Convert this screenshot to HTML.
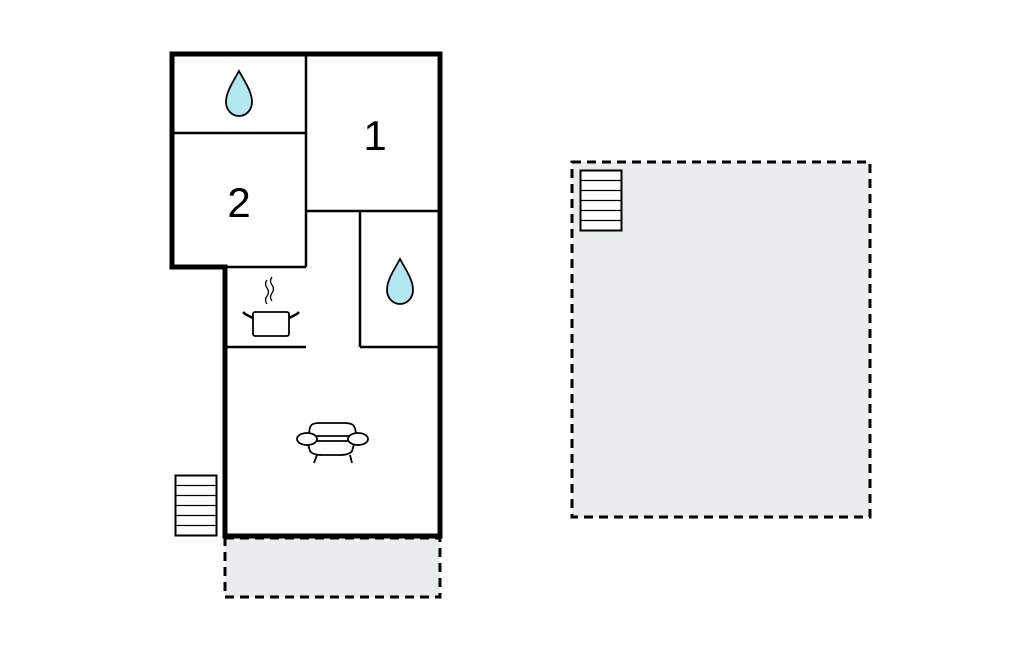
<!DOCTYPE html>
<html><head><meta charset="utf-8"><style>html,body{margin:0;padding:0;background:#fff}svg{display:block}</style></head>
<body>
<svg width="1024" height="652" viewBox="0 0 1024 652" xmlns="http://www.w3.org/2000/svg">
<rect x="225" y="538" width="215" height="59" fill="#eaeded" stroke="#000" stroke-width="3" stroke-dasharray="9,6"/>
<rect x="572" y="162" width="298" height="355" fill="#eaeded" stroke="#000" stroke-width="3" stroke-dasharray="9,6"/>
<rect x="580.5" y="170.5" width="41" height="60" fill="#fff" stroke="#000" stroke-width="2"/>
<g stroke="#000" stroke-width="1.3">
<line x1="581" y1="180.5" x2="621" y2="180.5"/><line x1="581" y1="190.5" x2="621" y2="190.5"/><line x1="581" y1="200.5" x2="621" y2="200.5"/><line x1="581" y1="210.5" x2="621" y2="210.5"/><line x1="581" y1="220.5" x2="621" y2="220.5"/>
</g>
<rect x="175.5" y="475.5" width="41" height="60" fill="#fff" stroke="#000" stroke-width="2"/>
<g stroke="#000" stroke-width="1.3">
<line x1="176" y1="485.5" x2="216" y2="485.5"/><line x1="176" y1="495.5" x2="216" y2="495.5"/><line x1="176" y1="505.5" x2="216" y2="505.5"/><line x1="176" y1="515.5" x2="216" y2="515.5"/><line x1="176" y1="525.5" x2="216" y2="525.5"/>
</g>
<g stroke="#000" stroke-width="2.5" fill="none">
<line x1="306" y1="54" x2="306" y2="267"/>
<line x1="172" y1="133" x2="306" y2="133"/>
<line x1="306" y1="211" x2="440" y2="211"/>
<line x1="360" y1="211" x2="360" y2="347"/>
<line x1="360" y1="347" x2="440" y2="347"/>
<line x1="225" y1="347" x2="306" y2="347"/>
<line x1="225" y1="267" x2="306" y2="267"/>
</g>
<path d="M172 267 L172 54 L440 54 L440 536 L225 536 L225 267 Z" fill="none" stroke="#000" stroke-width="5" stroke-linejoin="miter"/>
<path d="M239 71 C233 82 226 92 226 102 C226 110 232 116 239 116 C246 116 252 110 252 102 C252 92 245 82 239 71 Z" fill="#b3e8f2" stroke="#000" stroke-width="1.8"/>
<path d="M400 259 C394 270 387 280 387 290 C387 298 393 304 400 304 C407 304 413 298 413 290 C413 280 406 270 400 259 Z" fill="#b3e8f2" stroke="#000" stroke-width="1.8"/>
<text x="375" y="150" font-family="Liberation Sans, sans-serif" font-size="42" text-anchor="middle">1</text>
<text x="239" y="217" font-family="Liberation Sans, sans-serif" font-size="42" text-anchor="middle">2</text>
<g fill="none" stroke="#000" stroke-width="1.3">
<path d="M267 280 q-3 4 0 8 q3 4 0 8 q-3 4 0 8"/>
<path d="M272 277 q-3 4 0 8 q3 4 0 8 q-3 4 0 8"/>
<rect x="253" y="312" width="36" height="24" rx="2" stroke-width="1.8"/>
<path d="M253 318 L245 314 M245 314 L243 312" stroke-width="2.5"/>
<path d="M289 318 L297 314 M297 314 L299 312" stroke-width="2.5"/>
</g>
<g fill="#fff" stroke="#000" stroke-width="1.8">
<path d="M309 436 C309 424 312 423 320 423 L344 423 C352 423 356 424 356 436 Z"/>
<path d="M307 441 L355 441 L352 451 C350 454 345 455 340 455 L322 455 C317 455 312 454 310 451 Z"/>
<ellipse cx="307" cy="439" rx="10" ry="6"/>
<ellipse cx="358" cy="439" rx="10" ry="6"/>
<line x1="317" y1="455" x2="314" y2="463"/>
<line x1="350" y1="455" x2="352" y2="463"/>
</g>
</svg>
</body></html>
